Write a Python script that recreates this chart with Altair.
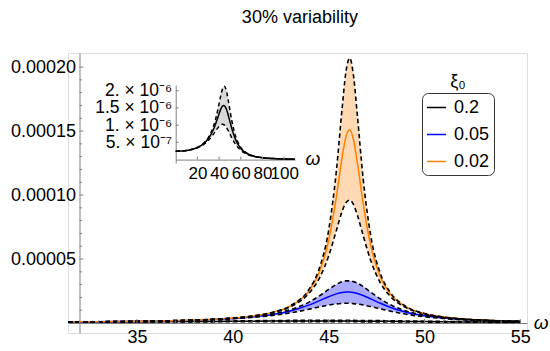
import altair as alt
import pandas as pd

FONT = "Liberation Sans"

# ---------------- main panel data (in units of 1e-6) ----------------
omega = [31.4, 32, 34, 36, 38, 40, 41, 42, 43, 44, 44.5, 45, 45.4, 45.7, 45.9,
         46.1, 46.3, 46.5, 46.8, 47.2, 47.7, 48.2, 49, 50, 51, 52, 53, 55]

orange_hi = [0.839, 0.898, 1.158, 1.580, 2.334, 3.900, 5.416, 8.092, 13.49, 26.88, 42.09, 72.44,
             118.44, 167.2, 196.15, 207.06, 192.9, 162.0, 112.96, 67.96, 38.74, 24.26, 13.31,
             7.44, 4.687, 3.193, 2.300, 1.335]
orange_mid = [0.839, 0.897, 1.157, 1.577, 2.327, 3.879, 5.374, 7.996, 13.21, 25.75, 39.33, 64.46,
              98.21, 129.1, 145.44, 151.01, 143.0, 125.1, 93.45, 60.26, 36.06, 23.16, 12.96,
              7.325, 4.639, 3.170, 2.287, 1.331]
orange_lo = [0.837, 0.896, 1.154, 1.571, 2.313, 3.837, 5.289, 7.800, 12.66, 23.64, 34.53, 52.29,
             72.16, 87.19, 94.04, 96.02, 92.44, 84.37, 68.46, 48.62, 31.46, 21.13, 12.28,
             7.093, 4.541, 3.122, 2.261, 1.321]

blue_hi = [0.831, 0.888, 1.140, 1.542, 2.243, 3.628, 4.882, 6.909, 10.38, 16.55, 21.04, 26.24,
           30.14, 32.21, 32.92, 32.97, 32.35, 31.14, 28.46, 24.13, 18.83, 14.47, 9.618, 6.082,
           4.089, 2.894, 2.134, 1.274]
blue_mid = [0.827, 0.884, 1.132, 1.526, 2.206, 3.522, 4.682, 6.497, 9.44, 14.18, 17.29, 20.56,
            22.78, 23.86, 24.19, 24.16, 23.77, 23.06, 21.49, 18.85, 15.40, 12.32, 8.586, 5.636,
            3.874, 2.780, 2.070, 1.249]
blue_lo = [0.820, 0.875, 1.116, 1.493, 2.130, 3.314, 4.305, 5.761, 7.90, 10.86, 12.52, 14.04,
           14.95, 15.34, 15.43, 15.37, 15.16, 14.82, 14.09, 12.84, 11.07, 9.34, 6.982, 4.871,
           3.483, 2.565, 1.944, 1.198]

black_hi = [0.707, 0.744, 0.890, 1.081, 1.326, 1.620, 1.774, 1.918, 2.036, 2.111, 2.126, 2.126,
            2.113, 2.097, 2.082, 2.066, 2.047, 2.025, 1.989, 1.934, 1.856, 1.769, 1.622, 1.432,
            1.250, 1.083, 0.936, 0.699]
black_mid = [0.668, 0.699, 0.819, 0.967, 1.143, 1.331, 1.419, 1.494, 1.548, 1.572, 1.572, 1.562,
             1.548, 1.534, 1.522, 1.510, 1.496, 1.481, 1.457, 1.421, 1.371, 1.316, 1.223, 1.102,
             0.982, 0.870, 0.767, 0.594]
black_lo = [0.598, 0.620, 0.701, 0.790, 0.883, 0.964, 0.995, 1.016, 1.025, 1.019, 1.011, 0.999,
            0.986, 0.976, 0.968, 0.960, 0.952, 0.943, 0.928, 0.908, 0.881, 0.852, 0.802, 0.739,
            0.675, 0.613, 0.554, 0.450]

series_names = ["0.2", "0.05", "0.02"]
line_colors = ["#000000", "#0000FF", "#FF8000"]
band_colors = ["#D9D9D9", "#AAAAFF", "#FFD9B3"]

x_major = [35, 40, 45, 50, 55]
x_minor = [32, 33, 34, 36, 37, 38, 39, 41, 42, 43, 44, 46, 47, 48, 49, 51, 52, 53, 54]
y_major = [5e-5, 1e-4, 1.5e-4, 2e-4]
y_minor = [1e-5, 2e-5, 3e-5, 4e-5, 6e-5, 7e-5, 8e-5, 9e-5, 1.1e-4, 1.2e-4, 1.3e-4, 1.4e-4,
           1.6e-4, 1.7e-4, 1.8e-4, 1.9e-4]

# ---------------- inset data (xi0 = 0.2, units of 1e-6) ----------------
inset_omega = [0, 10, 15, 20, 25, 30, 35, 38, 40, 42, 43, 44, 45, 46.1, 47.2, 48.2, 50, 52, 55,
               60, 65, 70, 80, 90, 100, 110]
inset_hi = [0.2416, 0.2645, 0.2976, 0.3548, 0.4535, 0.6326, 0.9788, 1.326, 1.620, 1.918, 2.036,
            2.111, 2.126, 2.066, 1.934, 1.769, 1.432, 1.083, 0.699, 0.3555, 0.1999, 0.1224,
            0.0549, 0.0289, 0.0169, 0.0106]
inset_mid = [0.2416, 0.2639, 0.2959, 0.3506, 0.4430, 0.6038, 0.8894, 1.143, 1.331, 1.494, 1.548,
             1.572, 1.562, 1.510, 1.421, 1.316, 1.102, 0.870, 0.594, 0.3210, 0.1867, 0.1165,
             0.0534, 0.0284, 0.0167, 0.0105]
inset_lo = [0.2416, 0.2626, 0.2925, 0.3420, 0.4222, 0.5505, 0.7447, 0.883, 0.964, 1.016, 1.025,
            1.019, 0.999, 0.960, 0.908, 0.852, 0.739, 0.613, 0.450, 0.2661, 0.1636, 0.1057,
            0.0503, 0.0273, 0.0162, 0.0103]
inset_x_ticks = [20, 40, 60, 80, 100]
inset_y_ticks = [5e-7, 1e-6, 1.5e-6, 2e-6]
inset_y_labels = ["5. × 10⁻⁷", "1. × 10⁻⁶", "1.5 × 10⁻⁶", "2. × 10⁻⁶"]

title_text = "30% variability"

# ---------------- tables ----------------
rows = []
for name, lo, mid, hi in [("0.2", black_lo, black_mid, black_hi),
                          ("0.05", blue_lo, blue_mid, blue_hi),
                          ("0.02", orange_lo, orange_mid, orange_hi)]:
    for w, a, b, c in zip(omega, lo, mid, hi):
        rows.append({"series": name, "band": "b" + name, "w": w,
                     "lo": a * 1e-6, "mid": b * 1e-6, "hi": c * 1e-6})
main_df = pd.DataFrame(rows)

inset_df = pd.DataFrame({"w": inset_omega,
                         "lo": [v * 1e-6 for v in inset_lo],
                         "mid": [v * 1e-6 for v in inset_mid],
                         "hi": [v * 1e-6 for v in inset_hi]})

AXIS_GRAY = "#808080"

# ---------------- main scales / axes ----------------
xsc = alt.Scale(domain=[31.4, 55.35], nice=False, zero=False)
ysc = alt.Scale(domain=[-7.8e-6, 2.11e-4], nice=False, zero=False)
xax = alt.Axis(values=x_major, format="d", ticks=False, tickSize=0, domainColor=AXIS_GRAY,
               labelFontSize=18, labelFont=FONT, labelColor="black", labelPadding=5,
               labelFlush=False, grid=False, title=None, offset=-10)
yax = alt.Axis(values=y_major, format=".5f", ticks=False, tickSize=0, domainColor=AXIS_GRAY,
               labelFontSize=18, labelFont=FONT, labelColor="black", labelPadding=4,
               labelFlush=False, grid=False, title=None, offset=-11.5)


def MX(f):
    return alt.X(f, type="quantitative", scale=xsc, axis=xax)


def MY(f):
    return alt.Y(f, type="quantitative", scale=ysc, axis=yax)


def DX(v):
    return alt.X(datum=v, type="quantitative", scale=xsc, axis=xax)


def DY(v):
    return alt.Y(datum=v, type="quantitative", scale=ysc, axis=yax)


base = alt.Chart(main_df)
bands = base.mark_area(interpolate="monotone").encode(
    x=MX("w"), y=MY("lo"), y2="hi",
    fill=alt.Fill("band:N", scale=alt.Scale(domain=["b" + s for s in series_names],
                                            range=band_colors), legend=None))
mids = base.mark_line(interpolate="monotone", strokeWidth=1.5).encode(
    x=MX("w"), y=MY("mid"),
    color=alt.Color("series:N", scale=alt.Scale(domain=series_names, range=line_colors),
                    sort=series_names,
                    legend=alt.Legend(orient="none", legendX=354, legendY=40, title=None,
                                      symbolType="stroke", symbolStrokeWidth=1.5,
                                      symbolSize=361, labelFontSize=18, labelFont=FONT,
                                      labelColor="black", strokeColor="#333333",
                                      fillColor="white", cornerRadius=6, padding=4,
                                      rowPadding=7, labelOffset=7)))
his = base.mark_line(interpolate="monotone", strokeWidth=1.6, strokeDash=[4.5, 3],
                     color="black").encode(x=MX("w"), y=MY("hi"), detail="series:N")
los = base.mark_line(interpolate="monotone", strokeWidth=1.6, strokeDash=[4.5, 3],
                     color="black").encode(x=MX("w"), y=MY("lo"), detail="series:N")

ytk_major = alt.Chart(pd.DataFrame({"t": y_major})).mark_rule(color=AXIS_GRAY).encode(
    x=DX(32), x2=alt.X2(datum=32.21), y=MY("t"))
ytk_minor = alt.Chart(pd.DataFrame({"t": y_minor})).mark_rule(color=AXIS_GRAY).encode(
    x=DX(32), x2=alt.X2(datum=32.13), y=MY("t"))
xtk_major = alt.Chart(pd.DataFrame({"t": x_major})).mark_rule(color=AXIS_GRAY).encode(
    x=MX("t"), y=DY(0), y2=alt.Y2(datum=3.1e-6))
xtk_minor = alt.Chart(pd.DataFrame({"t": x_minor})).mark_rule(color=AXIS_GRAY).encode(
    x=MX("t"), y=DY(0), y2=alt.Y2(datum=2e-6))

omega_lbl = alt.Chart(pd.DataFrame({"s": ["ω"]})).mark_text(
    font=FONT, fontSize=19, fontStyle="italic", align="left", baseline="middle", color="black"
).encode(x=DX(55.7), y=DY(0), text="s:N")
legend_title = alt.Chart(pd.DataFrame({"s": ["ξ₀"]})).mark_text(
    font=FONT, fontSize=18, align="center", baseline="middle", color="black"
).encode(x=DX(51.75), y=DY(1.883e-4), text="s:N")
title_lbl = alt.Chart(pd.DataFrame({"s": [title_text]})).mark_text(
    font=FONT, fontSize=18, align="center", baseline="middle", color="black"
).encode(x=DX(43.5), y=DY(2.385e-4), text="s:N")

main = alt.layer(bands, mids, his, los, ytk_major, ytk_minor, xtk_major, xtk_minor,
                 omega_lbl, legend_title, title_lbl)

# ---------------- inset ----------------
isx = alt.Scale(domain=[0, 110], range=[107.7, 227], nice=False, zero=False)
isy = alt.Scale(domain=[-1e-7, 2.165e-6], range=[110, 32], nice=False, zero=False)
label_expr = ("datum.value < 7.5e-7 ? '%s' : datum.value < 1.25e-6 ? '%s' : "
              "datum.value < 1.75e-6 ? '%s' : '%s'") % tuple(inset_y_labels)
ixax = alt.Axis(values=inset_x_ticks, format="d", ticks=False, tickSize=0, domainColor=AXIS_GRAY,
                labelFontSize=17, labelFont=FONT, labelColor="black", labelPadding=6,
                labelFlush=False, labelOverlap=False, grid=False, title=None, orient="bottom",
                offset=-173.4)
iyax = alt.Axis(values=inset_y_ticks, labelExpr=label_expr, ticks=False, tickSize=0,
                domainColor=AXIS_GRAY, labelFontSize=17.5, labelFont=FONT, labelColor="black",
                labelPadding=4, labelFlush=False, labelOverlap=False, grid=False, title=None,
                orient="left", offset=-107.7)


def IX(f):
    return alt.X(f, type="quantitative", scale=isx, axis=ixax)


def IY(f):
    return alt.Y(f, type="quantitative", scale=isy, axis=iyax)


ibase = alt.Chart(inset_df)
iband = ibase.mark_area(interpolate="monotone", color="#D9D9D9").encode(x=IX("w"), y=IY("lo"), y2="hi")
imid = ibase.mark_line(interpolate="monotone", strokeWidth=1.5, color="black").encode(x=IX("w"), y=IY("mid"))
ihi = ibase.mark_line(interpolate="monotone", strokeWidth=1.5, strokeDash=[4, 3],
                      color="black").encode(x=IX("w"), y=IY("hi"))
ilo = ibase.mark_line(interpolate="monotone", strokeWidth=1.5, strokeDash=[4, 3],
                      color="black").encode(x=IX("w"), y=IY("lo"))
iytk = alt.Chart(pd.DataFrame({"t": inset_y_ticks})).mark_rule(color=AXIS_GRAY).encode(
    x=alt.X(datum=0, type="quantitative", scale=isx, axis=ixax), x2=alt.X2(datum=2.8), y=IY("t"))
ixtk = alt.Chart(pd.DataFrame({"t": inset_x_ticks})).mark_rule(color=AXIS_GRAY).encode(
    x=IX("t"), y=alt.Y(datum=0, type="quantitative", scale=isy, axis=iyax), y2=alt.Y2(datum=8.7e-8))
iomega = alt.Chart(pd.DataFrame({"s": ["ω"]})).mark_text(
    font=FONT, fontSize=19, fontStyle="italic", align="center", baseline="middle", color="black"
).encode(x=alt.X(datum=126.6, type="quantitative", scale=isx, axis=ixax),
         y=alt.Y(datum=0.2e-7, type="quantitative", scale=isy, axis=iyax), text="s:N")

inset = alt.layer(iband, imid, ihi, ilo, iytk, ixtk, iomega)

chart = alt.layer(main, inset).resolve_scale(x="independent", y="independent").properties(
    width=459, height=280,
    padding={"left": 68, "top": 53, "right": 23, "bottom": 18},
    autosize=alt.AutoSizeParams(type="none"),
).configure_view(stroke=None).configure(background="white")

chart.save("out.html", embed_options={"renderer": "svg", "actions": False})
